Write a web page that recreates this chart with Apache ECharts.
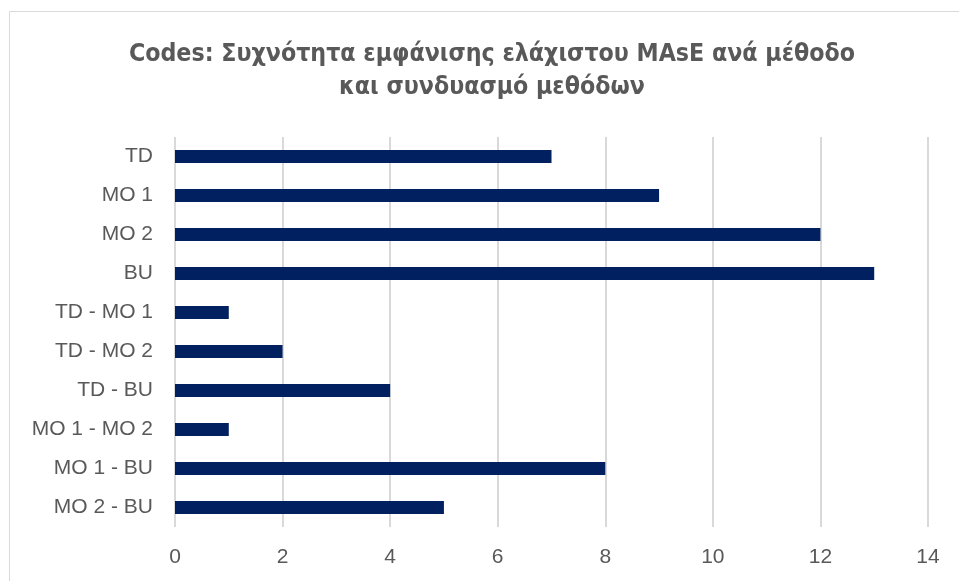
<!DOCTYPE html>
<html>
<head>
<meta charset="utf-8">
<script src="https://cdn.jsdelivr.net/npm/echarts@6/dist/echarts.min.js"></script>
<style>
  html, body { margin: 0; padding: 0; background: #fff; }
  #chart { width: 959px; height: 581px; }
</style>
</head>
<body>
<div id="chart"></div>
<script>
// Method / method-combination labels, listed top to bottom
const categories = ['TD', 'MO 1', 'MO 2', 'BU', 'TD - MO 1', 'TD - MO 2', 'TD - BU', 'MO 1 - MO 2', 'MO 1 - BU', 'MO 2 - BU'];
// How often each one produced the lowest MASE
const counts = [7, 9, 12, 13, 1, 2, 4, 1, 8, 5];
const xTicks = [0, 2, 4, 6, 8, 10, 12, 14];

const labelFont = '"Liberation Sans", Arial, sans-serif';

const chart = echarts.init(document.getElementById('chart'));
chart.setOption({
  animation: false,
  backgroundColor: '#ffffff',
  graphic: [{
    type: 'rect',
    shape: { x: 9.5, y: 11.5, width: 1000, height: 700 },
    style: { fill: 'none', stroke: '#d9d9d9', lineWidth: 1 },
    silent: true
  }],
  title: {
    text: 'Codes: Συχνότητα εμφάνισης ελάχιστου MAsE ανά μέθοδο\nκαι συνδυασμό μεθόδων',
    left: 487,
    top: 33,
    textAlign: 'center',
    textStyle: {
      fontFamily: '"DejaVu Sans Condensed", "Liberation Sans Narrow", "Open Sans", sans-serif',
      fontSize: 24.7,
      fontWeight: 'bold',
      color: '#595959',
      lineHeight: 33
    }
  },
  grid: { left: 175, right: 31, top: 137, bottom: 54, containLabel: false },
  xAxis: {
    type: 'value',
    min: xTicks[0],
    max: xTicks[xTicks.length - 1],
    interval: 2,
    axisLine: { show: false },
    axisTick: { show: false },
    splitLine: { show: true, lineStyle: { color: '#d9d9d9', width: 2 } },
    axisLabel: {
      color: '#595959',
      fontSize: 21,
      fontFamily: labelFont,
      margin: 20
    }
  },
  yAxis: {
    type: 'category',
    data: categories,
    inverse: true,
    axisLine: { show: false },
    axisTick: { show: false },
    splitLine: { show: false },
    axisLabel: {
      color: '#595959',
      fontSize: 21,
      fontFamily: labelFont,
      margin: 22
    }
  },
  series: [{
    type: 'bar',
    data: counts,
    barWidth: 13,
    itemStyle: { color: '#002060' }
  }]
});
</script>
</body>
</html>
